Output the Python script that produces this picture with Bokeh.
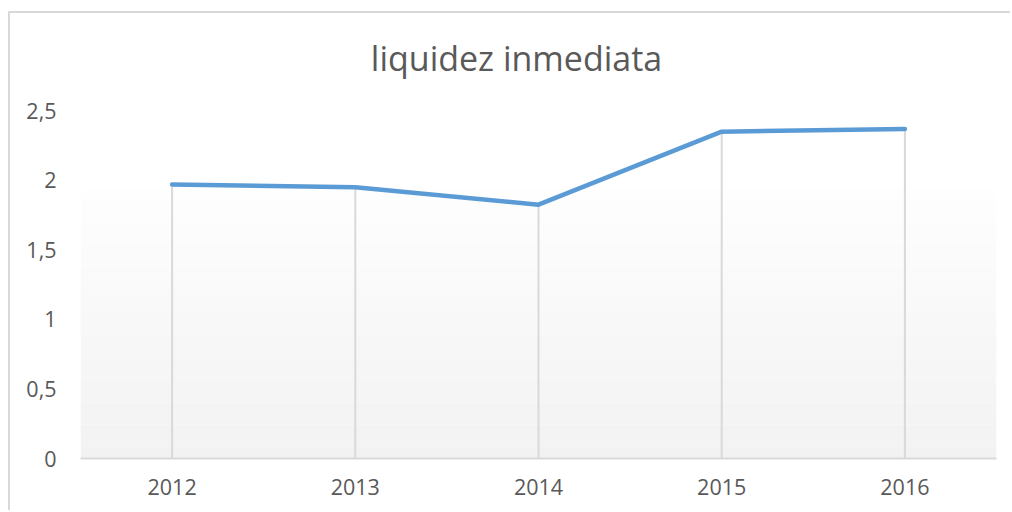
from bokeh.plotting import figure
from bokeh.models import FactorRange, Range1d, FixedTicker, CustomJSTickFormatter, BoxAnnotation
from bokeh.core.properties import value
from bokeh.embed import file_html
from bokeh.resources import INLINE

years = ["2012", "2013", "2014", "2015", "2016"]
liquidez = [1.97, 1.95, 1.825, 2.35, 2.37]
y_ticks = [0, 0.5, 1, 1.5, 2, 2.5]
title_text = "liquidez inmediata"

FONT = "Open Sans"
GREY_TXT = "#595959"
GRID = "#d9d9d9"

p = figure(
    x_range=FactorRange(factors=years, range_padding=0),
    y_range=Range1d(0, 3.2),
    width=1002, height=499,
    output_backend="svg", toolbar_location=None, title=None,
    min_border_left=70, min_border_right=16,
    min_border_top=0, min_border_bottom=54,
    styles={"margin-top": "11px", "margin-left": "8px",
            "border-top": "2px solid #d9d9d9",
            "border-left": "2px solid #d9d9d9"},
)

p.outline_line_color = None
p.background_fill_color = "white"
p.border_fill_color = "white"
p.xgrid.visible = False
p.ygrid.visible = False

# soft gradient backdrop (style only)
n_bands = 24
g_top = 1.94
for i in range(n_bands):
    b = g_top * i / n_bands
    t = g_top * (i + 1) / n_bands
    frac = i / (n_bands - 1)
    c = int(round(242 + (254 - 242) * frac))
    p.add_layout(BoxAnnotation(bottom=b, top=t, fill_color=f"#{c:02x}{c:02x}{c:02x}",
                               fill_alpha=1.0, line_color=None, level="underlay"))

# chart title (drawn as text above the data area)
p.text(x=[years[2]], y=[2.88], text=[title_text], text_align="center",
       text_baseline="middle", x_offset=-22, text_font=value(FONT),
       text_font_size="34px", text_color=GREY_TXT)

# drop lines
p.segment(x0=years, y0=[0] * len(years), x1=years, y1=liquidez,
          line_color=GRID, line_width=2)

p.line(years, liquidez, line_color="#5b9bd5", line_width=4.5, line_cap="round", line_join="round")

# axes
p.yaxis.ticker = FixedTicker(ticks=y_ticks)
p.yaxis.formatter = CustomJSTickFormatter(code="return tick.toString().replace('.', ',');")
p.yaxis.axis_line_color = None
p.yaxis.major_tick_line_color = None
p.yaxis.minor_tick_line_color = None
p.yaxis.major_label_standoff = 18
p.yaxis.major_label_text_font = FONT
p.yaxis.major_label_text_font_size = "21.5px"
p.yaxis.major_label_text_color = GREY_TXT

p.xaxis.axis_line_color = GRID
p.xaxis.axis_line_width = 2
p.xaxis.major_tick_line_color = None
p.xaxis.minor_tick_line_color = None
p.xaxis.major_label_standoff = 14
p.xaxis.major_label_text_font = FONT
p.xaxis.major_label_text_font_size = "21.5px"
p.xaxis.major_label_text_color = GREY_TXT

open("out.html", "w").write(file_html(p, INLINE))
